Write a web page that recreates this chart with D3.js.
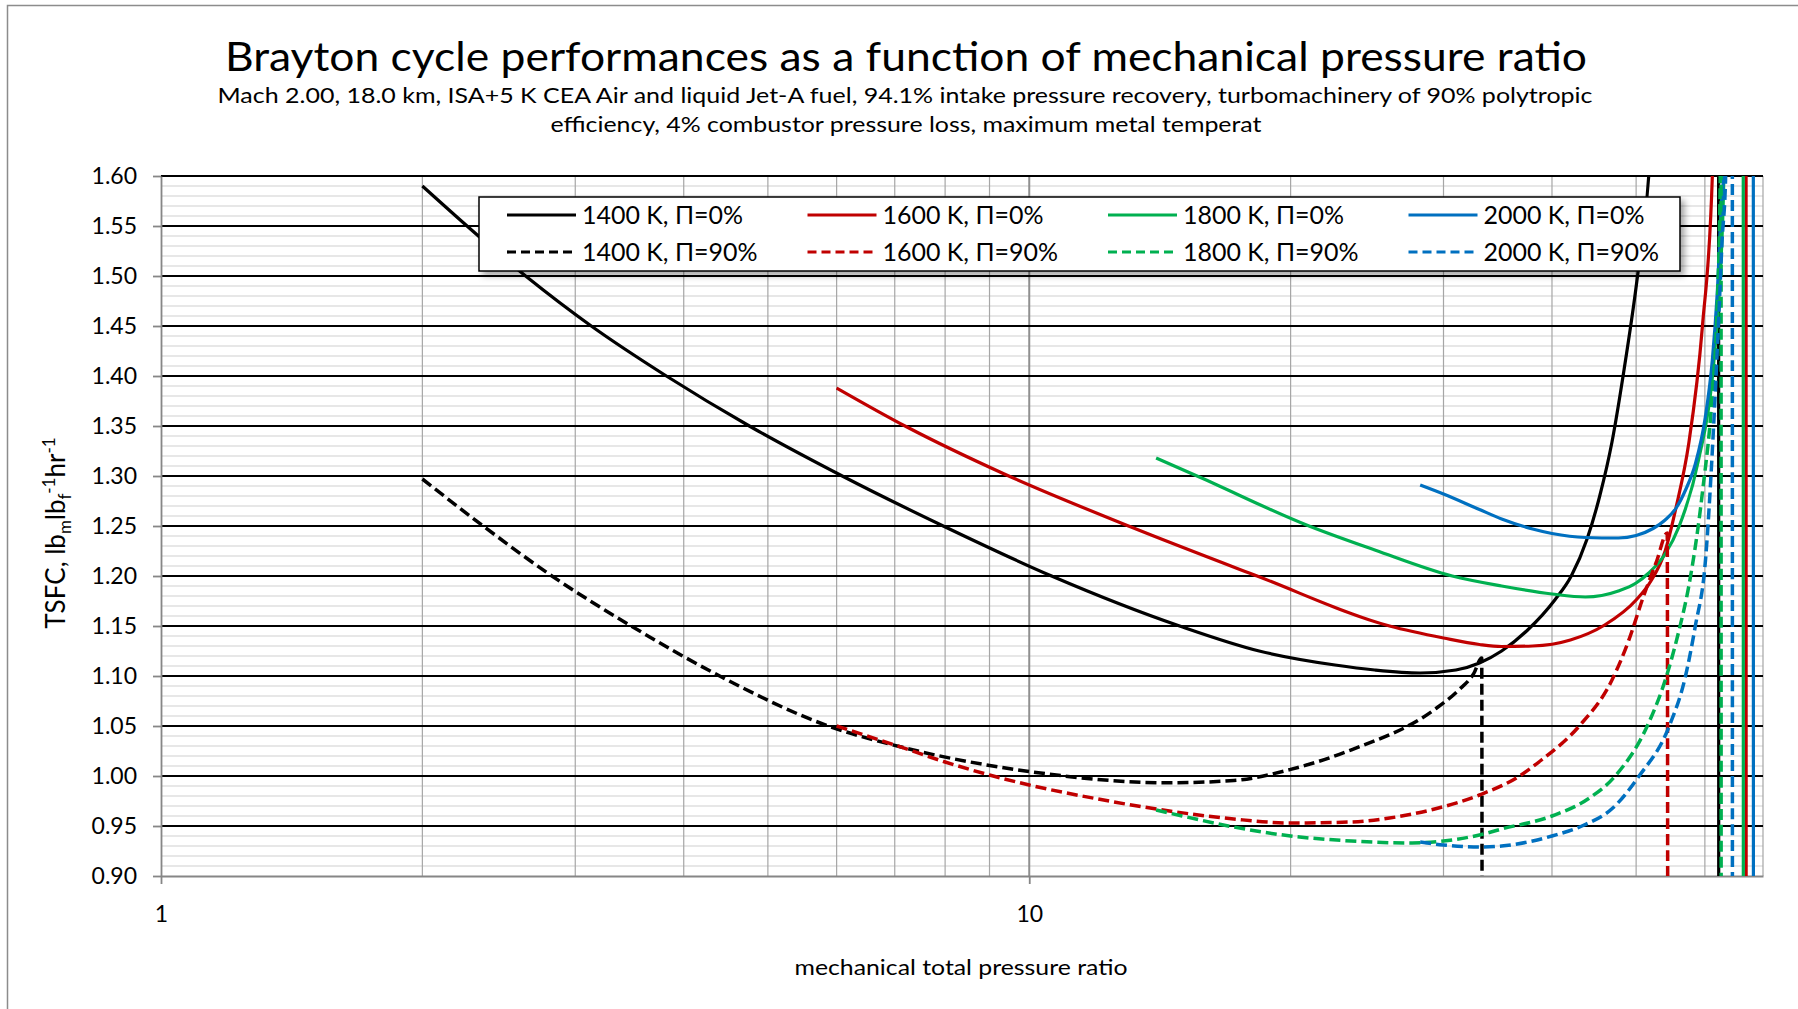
<!DOCTYPE html>
<html><head><meta charset="utf-8">
<script src="https://cdn.jsdelivr.net/npm/d3@7"></script>
<style>
body{margin:0;background:#fff}
svg{display:block}
text{font-family:Lato,"Noto Sans","DejaVu Sans",sans-serif;fill:#000}
</style>
</head><body>
<svg id="chart" width="1798" height="1009"></svg>
<script>
// ---------------- data ----------------
const titleText = "Brayton cycle performances as a function of mechanical pressure ratio";
const subtitleLines = [
  "Mach 2.00, 18.0 km, ISA+5 K CEA Air and liquid Jet-A fuel, 94.1% intake pressure recovery, turbomachinery of 90% polytropic",
  "efficiency, 4% combustor pressure loss, maximum metal temperat"
];
const xAxisTitle = "mechanical total pressure ratio";
const xTickValues = [1, 10];
const xMinorGridValues = [2, 3, 4, 5, 6, 7, 8, 9, 20, 30, 40, 50, 60, 70];
const yTickValues = [0.90, 0.95, 1.00, 1.05, 1.10, 1.15, 1.20, 1.25, 1.30, 1.35, 1.40, 1.45, 1.50, 1.55, 1.60];

const seriesNames = ["1400 K, \u03A0=0%", "1600 K, \u03A0=0%", "1800 K, \u03A0=0%", "2000 K, \u03A0=0%",
                     "1400 K, \u03A0=90%", "1600 K, \u03A0=90%", "1800 K, \u03A0=90%", "2000 K, \u03A0=90%"];
const seriesColors = ["#000000", "#C00000", "#00B050", "#0070C0", "#000000", "#C00000", "#00B050", "#0070C0"];
const seriesDashed = [false, false, false, false, true, true, true, true];

// [pressure ratio, TSFC]
const s1400_0 = [[2,1.590],[2.63,1.500],[3.13,1.450],[3.82,1.400],[4.76,1.350],[6.09,1.300],[7.96,1.250],[10.61,1.200],[14.9,1.150],[18.4,1.125],[22.5,1.111],[25,1.106],[28.2,1.103],[31,1.106],[33,1.113],[35,1.125],[37.5,1.146],[40.3,1.176],[42.1,1.200],[43.9,1.237],[45.4,1.280],[46.9,1.334],[48.4,1.405],[50.1,1.495],[51.7,1.600],[55,2.2],[62.2,3.0],[62.25,0.5]];
const s1600_0 = [[6,1.388],[7.23,1.349],[9.36,1.302],[13.1,1.249],[18.3,1.200],[26,1.150],[30,1.138],[33,1.1315],[35,1.1295],[38,1.130],[42,1.136],[46,1.151],[50,1.176],[52,1.195],[54,1.225],[55.6,1.269],[57.5,1.333],[59.6,1.449],[61.2,1.600],[63,2.5],[66.9,3.0],[66.95,0.5]];
const s1800_0 = [[14,1.318],[15.7,1.299],[21,1.250],[25,1.226],[30.7,1.200],[35,1.190],[40,1.182],[43.7,1.179],[47.7,1.185],[50,1.193],[51.7,1.203],[54,1.222],[56,1.249],[59,1.316],[61.2,1.399],[62.3,1.483],[63.1,1.600],[64.5,2.5],[66.4,3.0],[66.45,0.5]];
const s2000_0 = [[28.2,1.291],[30,1.282],[33,1.2665],[35,1.257],[38,1.247],[40,1.2425],[43.7,1.2385],[47.7,1.238],[50,1.2405],[52.3,1.2475],[54,1.256],[55.6,1.268],[57,1.286],[58.5,1.312],[60.1,1.360],[61.2,1.416],[62,1.483],[62.8,1.583],[63.1,1.600],[65,2.5],[68.2,3.0],[68.25,0.5]];
const s1400_90 = [[2,1.297],[2.35,1.250],[2.82,1.200],[3.48,1.150],[4.40,1.100],[5.87,1.050],[7.12,1.029],[10,1.0045],[14.45,0.9932],[17.2,0.9955],[20,1.0066],[23.5,1.0262],[29.3,1.0665],[31.2,1.0856],[32.5,1.1024],[33.2,1.118],[33.25,0.5]];
const s1600_90 = [[6,1.050],[7,1.031],[8,1.014],[9,1.001],[10,0.991],[12,0.977],[14.5,0.965],[17.2,0.957],[20,0.953],[23.5,0.954],[26,0.958],[29.3,0.967],[33,0.981],[36.7,1.000],[38.9,1.016],[42.9,1.049],[46.9,1.096],[49,1.135],[51,1.180],[52.8,1.215],[54.3,1.243],[54.4,0.5]];
const s1800_90 = [[14,0.966],[15,0.960],[17.2,0.949],[20,0.940],[23.5,0.935],[27.6,0.933],[30,0.935],[33,0.941],[35,0.947],[40,0.960],[44,0.977],[47.3,1.000],[51.5,1.050],[54.2,1.100],[56,1.145],[57.5,1.190],[59.6,1.283],[61.2,1.383],[62.0,1.470],[62.5,1.600],[62.6,3.0],[62.65,0.5]];
const s2000_90 = [[28.2,0.934],[30,0.931],[33,0.929],[35,0.930],[38,0.935],[40,0.940],[43.3,0.950],[47,0.968],[50.4,1.000],[54.6,1.050],[57,1.100],[58.5,1.150],[60.1,1.216],[61.4,1.349],[62.3,1.466],[62.8,1.535],[63.4,1.600],[64,2.5],[64.5,3.0],[64.55,0.5]];
const seriesData = [s1400_0, s1600_0, s1800_0, s2000_0, s1400_90, s1600_90, s1800_90, s2000_90];

// ---------------- layout ----------------
const W = 1798, H = 1009;
const plot = {left: 161, right: 1763, top: 176, bottom: 876};
const svg = d3.select("#chart");

const defs = svg.append("defs");
defs.append("clipPath").attr("id", "plotClip").append("rect")
  .attr("x", plot.left).attr("y", plot.top)
  .attr("width", plot.right - plot.left).attr("height", plot.bottom - plot.top);
const shadow = defs.append("filter").attr("id", "shadow").attr("x", "-5%").attr("y", "-20%").attr("width", "115%").attr("height", "160%");
shadow.append("feDropShadow").attr("dx", 4).attr("dy", 4).attr("stdDeviation", 3)
  .attr("flood-color", "#000").attr("flood-opacity", 0.35);

svg.append("rect").attr("width", W).attr("height", H).attr("fill", "#fff");
// outer chart frame
svg.append("rect").attr("x", 7.5).attr("y", 5.5).attr("width", 1830).attr("height", 1040)
  .attr("fill", "none").attr("stroke", "#8c8c8c").attr("stroke-width", 1.5);

const x = d3.scaleLog().domain([1, 70]).range([plot.left, plot.right]);
const y = d3.scaleLinear().domain([0.9, 1.6]).range([plot.bottom, plot.top]);

// ---------------- gridlines ----------------
const grid = svg.append("g");
const yMinor = d3.range(90, 161).map(v => v / 100).filter(v => Math.round(v * 100) % 5 !== 0);
grid.selectAll(".hminor").data(yMinor).join("line")
  .attr("x1", plot.left).attr("x2", plot.right)
  .attr("y1", d => y(d)).attr("y2", d => y(d))
  .attr("stroke", "#cfcfcf").attr("stroke-width", 1.2);
grid.selectAll(".vminor").data(xMinorGridValues).join("line")
  .attr("x1", d => x(d)).attr("x2", d => x(d))
  .attr("y1", plot.top).attr("y2", plot.bottom)
  .attr("stroke", "#a6a6a6").attr("stroke-width", 1.2);
grid.selectAll(".vmajor").data(xTickValues.filter(v => v > 1)).join("line")
  .attr("x1", d => x(d)).attr("x2", d => x(d))
  .attr("y1", plot.top).attr("y2", plot.bottom)
  .attr("stroke", "#8f8f8f").attr("stroke-width", 2);
grid.selectAll(".hmajor").data(yTickValues.filter(v => v > 0.9)).join("line")
  .attr("x1", plot.left).attr("x2", plot.right)
  .attr("y1", d => y(d)).attr("y2", d => y(d))
  .attr("stroke", "#000").attr("stroke-width", 2.2);

// ---------------- axes ----------------
const yAxis = svg.append("g").attr("transform", `translate(${plot.left},0)`)
  .call(d3.axisLeft(y).tickValues(yTickValues).tickFormat(d3.format(".2f")).tickSize(8).tickSizeOuter(0).tickPadding(16));
const xAxis = svg.append("g").attr("transform", `translate(0,${plot.bottom})`)
  .call(d3.axisBottom(x).tickValues(xTickValues).tickFormat(d3.format("d")).tickSize(8).tickSizeOuter(0).tickPadding(22));
[yAxis, xAxis].forEach(a => {
  a.select(".domain").attr("stroke", "#868686").attr("stroke-width", 1.8);
  a.selectAll(".tick line").attr("stroke", "#868686").attr("stroke-width", 1.8);
  a.selectAll(".tick text").attr("font-size", 23).attr("fill", "#000")
    .style("font-family", 'Lato,"Noto Sans",sans-serif');
});

// ---------------- series ----------------
const line = d3.line().x(d => x(d[0])).y(d => y(d[1])).curve(d3.curveMonotoneX);
const series = svg.append("g").attr("clip-path", "url(#plotClip)");
seriesData.forEach((data, i) => {
  series.append("path").datum(data)
    .attr("d", line)
    .attr("fill", "none")
    .attr("stroke", seriesColors[i])
    .attr("stroke-width", seriesDashed[i] ? 3.5 : 3.2)
    .attr("stroke-dasharray", seriesDashed[i] ? "11,5" : null)
    .attr("stroke-linejoin", "round");
});

// ---------------- titles ----------------
svg.append("text").attr("x", 906).attr("y", 71).attr("text-anchor", "middle")
  .attr("font-size", 40).attr("textLength", 1362).attr("lengthAdjust", "spacingAndGlyphs")
  .text(titleText);
svg.append("text").attr("x", 905).attr("y", 103).attr("text-anchor", "middle")
  .attr("font-size", 22).attr("textLength", 1375).attr("lengthAdjust", "spacingAndGlyphs")
  .text(subtitleLines[0]);
svg.append("text").attr("x", 906).attr("y", 132).attr("text-anchor", "middle")
  .attr("font-size", 22).attr("textLength", 711).attr("lengthAdjust", "spacingAndGlyphs")
  .text(subtitleLines[1]);

svg.append("text").attr("x", 961).attr("y", 975).attr("text-anchor", "middle")
  .attr("font-size", 22).attr("textLength", 333).attr("lengthAdjust", "spacingAndGlyphs")
  .text(xAxisTitle);

const yt = svg.append("text").attr("transform", "translate(65,533) rotate(-90)")
  .attr("text-anchor", "middle").attr("font-size", 26);
yt.append("tspan").text("TSFC, lb");
yt.append("tspan").attr("dy", 6).attr("font-size", 17).text("m");
yt.append("tspan").attr("dy", -6).text("lb");
yt.append("tspan").attr("dy", 6).attr("font-size", 17).text("f");
yt.append("tspan").attr("dy", -16).attr("font-size", 17).text("-1");
yt.append("tspan").attr("dy", 10).text("hr");
yt.append("tspan").attr("dy", -10).attr("font-size", 17).text("-1");

// ---------------- legend ----------------
const lg = svg.append("g");
lg.append("rect").attr("x", 479).attr("y", 197).attr("width", 1201).attr("height", 74)
  .attr("fill", "#fff").attr("stroke", "#000").attr("stroke-width", 1.5).attr("filter", "url(#shadow)");
const probe = lg.append("text").attr("font-size", 24).text(seriesNames[0]);
const legendFont = 24 * 161 / probe.node().getComputedTextLength();
probe.remove();
seriesNames.forEach((name, i) => {
  const col = i % 4, row = Math.floor(i / 4);
  const x0 = 507 + col * 300.5, yy = 215 + row * 37;
  lg.append("line").attr("x1", x0).attr("x2", x0 + 69).attr("y1", yy).attr("y2", yy)
    .attr("stroke", seriesColors[i]).attr("stroke-width", 3.2)
    .attr("stroke-dasharray", seriesDashed[i] ? "9,5" : null);
  lg.append("text").attr("x", x0 + 75).attr("y", yy).attr("dy", "0.36em")
    .attr("font-size", legendFont).text(name);
});
</script>
</body></html>
